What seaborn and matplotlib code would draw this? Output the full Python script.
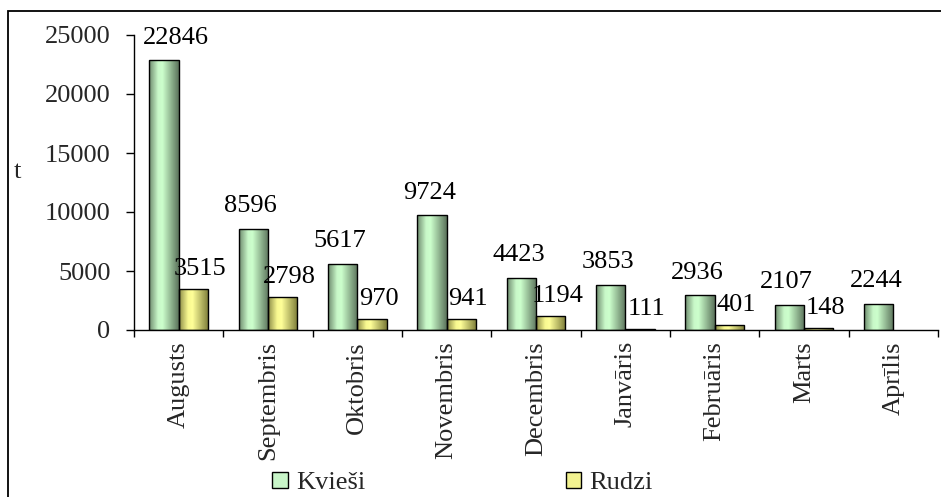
import numpy as np
import pandas as pd
import matplotlib
matplotlib.use("Agg")
import matplotlib.pyplot as plt
import seaborn as sns
from matplotlib.colors import LinearSegmentedColormap
from matplotlib.patches import Patch, Rectangle

# --- dati ---
months = ["Augusts", "Septembris", "Oktobris", "Novembris", "Decembris",
          "Janvāris", "Februāris", "Marts", "Aprīlis"]
kviesi = [22846, 8596, 5617, 9724, 4423, 3853, 2936, 2107, 2244]
rudzi = [3515, 2798, 970, 941, 1194, 111, 401, 148, np.nan]
series = ["Kvieši", "Rudzi"]

df = pd.DataFrame({
    "month": months * 2,
    "value": kviesi + rudzi,
    "grain": [series[0]] * len(months) + [series[1]] * len(months),
})

sns.set_theme(style="white")
plt.rcParams["font.family"] = ["Liberation Serif", "DejaVu Serif"]
FS = 19

fig = plt.figure(figsize=(9.41, 4.97), dpi=100)
ax = fig.add_axes([134 / 941, 1 - 330 / 497, (938 - 134) / 941, (330 - 35) / 497])

sns.barplot(data=df, x="month", y="value", hue="grain", order=months,
            palette=["#ccffcc", "#ffff99"], width=0.66, gap=0,
            edgecolor="black", linewidth=1.0, legend=False, ax=ax)

# gradient fill like the original (dark edges, light centre)
cmaps = [
    LinearSegmentedColormap.from_list("g", [(0, "#6f8c6f"), (0.3, "#c8f8c8"),
                                            (0.45, "#ccffcc"), (1, "#5c745c")]),
    LinearSegmentedColormap.from_list("y", [(0, "#8e8e48"), (0.3, "#f8f890"),
                                            (0.45, "#ffff99"), (1, "#7c7c38")]),
]
grad = np.linspace(0, 1, 64)[None, :]
for cont, cmap in zip(ax.containers, cmaps):
    for p in cont.patches:
        h = p.get_height()
        if not np.isfinite(h) or h == 0:
            continue
        x0, w = p.get_x(), p.get_width()
        p.set_facecolor("none")
        p.set_zorder(3)
        im = ax.imshow(grad, cmap=cmap, extent=[x0, x0 + w, 0, h],
                       aspect="auto", zorder=2, interpolation="bilinear")
        im.set_clip_path(p)

# value labels
offsets = [(-2, 12), (5, 10)]
labels = []
for cont, (dx, dy) in zip(ax.containers, offsets):
    for p in cont.patches:
        h = p.get_height()
        if not np.isfinite(h):
            continue
        labels.append(ax.annotate(f"{int(h)}", xy=(p.get_x() + p.get_width() / 2, h),
                                  xytext=(dx, dy), textcoords="offset points",
                                  ha="center", va="baseline", fontsize=FS, color="black"))

ax.set_xlim(-0.5, len(months) - 0.5)
ax.set_ylim(0, 25000)
ax.set_yticks([0, 5000, 10000, 15000, 20000, 25000])
ax.set_xticks(range(len(months)))
ax.set_xticklabels(months, rotation=90, va="top", ha="center", fontsize=FS)
ax.set_xticks(np.arange(-0.5, len(months)), minor=True)
ax.tick_params(axis="x", which="major", length=0, pad=8)
ax.tick_params(axis="x", which="minor", length=5, width=1, color="black",
               direction="out", bottom=True)
ax.tick_params(axis="y", length=6, width=1, color="black", direction="out",
               pad=11, labelsize=FS, left=True)
ax.set_xlabel("")
ax.set_ylabel("")
for s in ["top", "right"]:
    ax.spines[s].set_visible(False)
for s in ["left", "bottom"]:
    ax.spines[s].set_color("black")
    ax.spines[s].set_linewidth(1.0)
ax.set_facecolor("white")

# keep labels off the value axis (Excel pushes them inside the plot area)
fig.canvas.draw()
r = fig.canvas.get_renderer()
ax_left = ax.get_window_extent(r).x0
for t in labels:
    bb = t.get_window_extent(r)
    if bb.x0 < ax_left + 9:
        shift = (ax_left + 9 - bb.x0) * 72 / fig.dpi
        xo, yo = t.xyann
        t.xyann = (xo + shift, yo)

fig.text(14 / 941, 1 - 172 / 497, "t", fontsize=FS, ha="left", va="center")

# legend
handles = [Patch(facecolor="#c8f5c8", edgecolor="black", lw=1),
           Patch(facecolor="#f2f290", edgecolor="black", lw=1)]
fig.legend(handles, series, loc="center left", bbox_to_anchor=(272 / 941, 1 - 483 / 497),
           ncol=2, frameon=False, fontsize=FS, handlelength=0.6, handleheight=0.6,
           handletextpad=0.3, columnspacing=7.6, borderpad=0, borderaxespad=0)

# outer chart frame
fig.add_artist(Rectangle((8 / 941, -0.02), 1.0, 1 - 11 / 497 + 0.02,
                         transform=fig.transFigure, fill=False, lw=1.3, ec="black"))

fig.savefig("out.png", dpi=100)
